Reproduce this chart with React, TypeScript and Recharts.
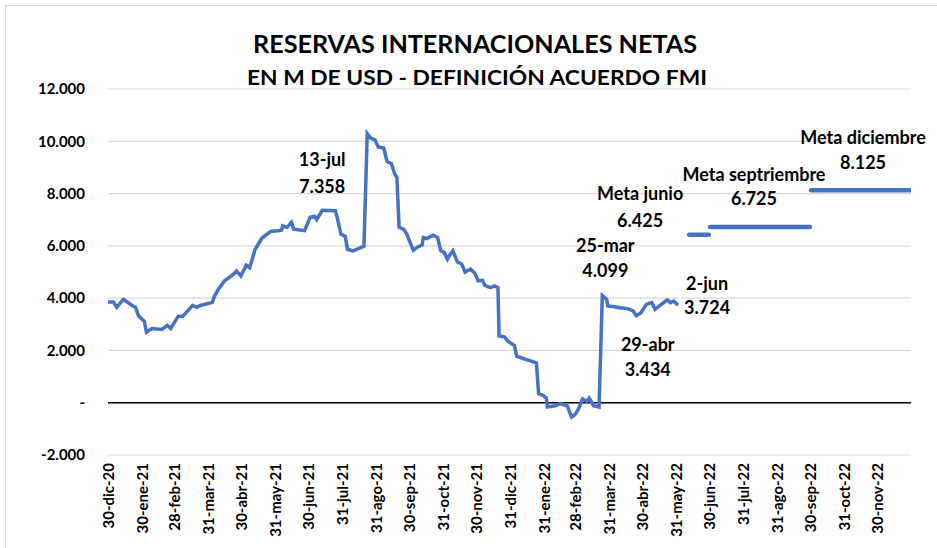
import React from "react";
import { CartesianGrid, Line, LineChart, ReferenceDot, ReferenceLine, XAxis, YAxis } from "recharts";

// RIN series (M USD)
const rinDates = [
  "2020-12-30", "2021-01-04", "2021-01-07", "2021-01-13", "2021-01-21", "2021-01-24", "2021-01-27",
  "2021-02-01", "2021-02-03", "2021-02-08", "2021-02-17", "2021-02-22", "2021-02-25", "2021-03-04",
  "2021-03-08", "2021-03-13", "2021-03-17", "2021-03-21", "2021-03-24", "2021-04-04", "2021-04-06",
  "2021-04-09", "2021-04-15", "2021-04-23", "2021-04-26", "2021-04-30", "2021-05-05", "2021-05-08",
  "2021-05-13", "2021-05-19", "2021-05-27", "2021-06-03", "2021-06-06", "2021-06-07", "2021-06-11",
  "2021-06-15", "2021-06-17", "2021-06-27", "2021-07-02", "2021-07-06", "2021-07-08", "2021-07-13",
  "2021-07-25", "2021-07-27", "2021-07-30", "2021-08-03", "2021-08-05", "2021-08-10", "2021-08-20",
  "2021-08-23", "2021-08-26", "2021-08-30", "2021-09-02", "2021-09-07", "2021-09-10", "2021-09-14",
  "2021-09-17", "2021-09-19", "2021-09-21", "2021-09-25", "2021-09-28", "2021-10-01", "2021-10-04",
  "2021-10-08", "2021-10-12", "2021-10-13", "2021-10-16", "2021-10-22", "2021-10-26", "2021-10-29",
  "2021-11-01", "2021-11-04", "2021-11-06", "2021-11-09", "2021-11-13", "2021-11-17", "2021-11-20",
  "2021-11-25", "2021-11-29", "2021-12-02", "2021-12-06", "2021-12-08", "2021-12-13", "2021-12-17",
  "2021-12-20", "2021-12-21", "2021-12-26", "2021-12-29", "2022-01-04", "2022-01-06", "2022-01-10",
  "2022-01-15", "2022-01-20", "2022-01-24", "2022-01-26", "2022-01-30", "2022-02-02", "2022-02-03",
  "2022-02-10", "2022-02-15", "2022-02-21", "2022-02-25", "2022-02-28", "2022-03-03", "2022-03-07",
  "2022-03-11", "2022-03-13", "2022-03-17", "2022-03-22", "2022-03-25", "2022-03-29", "2022-03-30",
  "2022-04-05", "2022-04-10", "2022-04-17", "2022-04-22", "2022-04-25", "2022-04-29", "2022-05-04",
  "2022-05-09", "2022-05-12", "2022-05-16", "2022-05-23", "2022-05-26", "2022-05-29", "2022-06-02",
];
const rinValues = [
  3850, 3850, 3650, 3950, 3720, 3650, 3310,
  3120, 2700, 2840, 2800, 2960, 2840, 3310,
  3310, 3530, 3720, 3650, 3720, 3840, 4080,
  4310, 4660, 4910, 5040, 4850, 5260, 5170,
  5870, 6290, 6550, 6580, 6600, 6770, 6710,
  6900, 6640, 6580, 7090, 7130, 7000, 7358,
  7345, 7025, 6450, 6360, 5870, 5810, 5980,
  10290, 10120, 10050, 9780, 9740, 9230, 9140,
  8750, 8620, 6710, 6640, 6450, 6130, 5830,
  5960, 6030, 6320, 6280, 6410, 6320, 5810,
  5750, 5490, 5640, 5810, 5390, 5300, 5000,
  5110, 4950, 4660, 4680, 4490, 4400, 4470,
  4400, 2550, 2520, 2350, 2190, 1780, 1720,
  1650, 1580, 1520, 340, 280, 180, -160,
  -115, -30, -115, -550, -460, -270, 140,
  50, 180, -115, -165, 4099, 3950, 3700,
  3670, 3630, 3600, 3510, 3330, 3434, 3760,
  3830, 3570, 3700, 3930, 3830, 3890, 3724,
];

// IMF targets
const metaJunioDates = ["2022-06-12", "2022-06-30"];
const metaJunioValue = 6425;
const metaSepDates = ["2022-07-01", "2022-09-30"];
const metaSepValue = 6725;
const metaDicDates = ["2022-10-01", "2022-12-31"];
const metaDicValue = 8125;

const xTickLabels = [
  "30-dic-20", "30-ene-21", "28-feb-21", "31-mar-21", "30-abr-21", "31-may-21", "30-jun-21", "31-jul-21",
  "31-ago-21", "30-sep-21", "31-oct-21", "30-nov-21", "31-dic-21", "31-ene-22", "28-feb-22", "31-mar-22",
  "30-abr-22", "31-may-22", "30-jun-22", "31-jul-22", "31-ago-22", "30-sep-22", "31-oct-22", "30-nov-22",
];
const yTicks = [-2000, 0, 2000, 4000, 6000, 8000, 10000, 12000];

// annotations: anchor point + text lines
const annDates = ["2021-07-13", "2022-03-25", "2022-06-02", "2022-04-29", "2022-06-12", "2022-07-01", "2022-10-01"];
const annValues = [7358, 4099, 3724, 3434, metaJunioValue, metaSepValue, metaDicValue];
const annLines = [
  ["13-jul", "7.358"],
  ["25-mar", "4.099"],
  ["2-jun", "3.724"],
  ["29-abr", "3.434"],
  ["Meta junio", "6.425"],
  ["Meta septriembre", "6.725"],
  ["Meta diciembre", "8.125"],
];
const annDx = [0, 3, 29, 7, -49, 44, 52];
const annDy = [[-51, -24], [-51, -26], [-22, 2], [31, 56], [-42, -15], [-53, -29], [-53, -28]];

const BLUE = "#4472C4";
const FONT = "Lato, 'Liberation Sans', sans-serif";
const DAY0 = Date.UTC(2020, 11, 30);
const MONTHS: Record<string, number> = {
  ene: 1, feb: 2, mar: 3, abr: 4, may: 5, jun: 6, jul: 7, ago: 8, sep: 9, oct: 10, nov: 11, dic: 12,
};

const toDay = (iso: string) => {
  const [y, m, d] = iso.split("-").map(Number);
  return (Date.UTC(y, m - 1, d) - DAY0) / 864e5;
};
const labelToDay = (lbl: string) => {
  const [d, mon, yy] = lbl.split("-");
  return (Date.UTC(2000 + Number(yy), MONTHS[mon] - 1, Number(d)) - DAY0) / 864e5;
};

const rinData = rinDates.map((d, i) => ({ t: toDay(d), v: rinValues[i] }));
const metaJunio = metaJunioDates.map((d) => ({ t: toDay(d), v: metaJunioValue }));
const metaSep = metaSepDates.map((d) => ({ t: toDay(d), v: metaSepValue }));
const metaDic = metaDicDates.map((d) => ({ t: toDay(d), v: metaDicValue }));
const xTicks = xTickLabels.map(labelToDay);
const tickLabelByDay: Record<number, string> = {};
xTickLabels.forEach((l, i) => (tickLabelByDay[xTicks[i]] = l));

const fmtY = (v: number) => (v === 0 ? "-" : v.toString().replace(/\B(?=(\d{3})+(?!\d))/g, "."));

const XTick = (props: any) => {
  const { x, y, payload } = props;
  return (
    <text
      transform={`translate(${x},${y}) rotate(-90)`}
      textAnchor="end"
      dominantBaseline="central"
      fontFamily={FONT}
      fontWeight={700}
      fontSize={15}
      fill="#000"
    >
      {tickLabelByDay[payload.value]}
    </text>
  );
};

const Ann = (props: any) => {
  const { viewBox, lines, dx, dy } = props;
  const cx = viewBox.x + (viewBox.width || 0) / 2;
  const cy = viewBox.y + (viewBox.height || 0) / 2;
  return (
    <g>
      {lines.map((l: string, i: number) => (
        <text
          key={i}
          x={cx + dx}
          y={cy + dy[i]}
          textAnchor="middle"
          dominantBaseline="central"
          fontFamily={FONT}
          fontWeight={700}
          fontSize={18}
          fill="#000"
        >
          {l}
        </text>
      ))}
    </g>
  );
};

export default function App() {
  return (
    <div style={{ position: "absolute", left: 0, top: 0, width: 937, height: 548, background: "#fff", overflow: "hidden" }}>
      <div style={{ position: "absolute", left: 5, top: 5, width: 960, height: 600, border: "1px solid #d9d9d9" }} />
      <LineChart width={937} height={548} margin={{ top: 89, right: 26, left: 48, bottom: 13 }}>
        <CartesianGrid vertical={false} stroke="#d9d9d9" strokeWidth={1.2} />
        <XAxis
          dataKey="t"
          type="number"
          domain={[0, toDay("2022-12-31")]}
          ticks={xTicks}
          interval={0}
          tick={<XTick />}
          axisLine={false}
          tickLine={false}
          tickSize={0}
          tickMargin={8}
          height={80}
          allowDataOverflow
        />
        <YAxis
          type="number"
          domain={[-2000, 12000]}
          ticks={yTicks}
          interval={0}
          tickFormatter={fmtY}
          axisLine={false}
          tickLine={false}
          tickSize={0}
          tickMargin={23}
          width={60}
          tick={{ fill: "#000", fontSize: 15, fontWeight: 700, fontFamily: FONT }}
        />
        <ReferenceLine y={0} stroke="#000" strokeWidth={1.5} />
        <Line data={rinData} dataKey="v" stroke={BLUE} strokeWidth={3.5} dot={false} activeDot={false} isAnimationActive={false} />
        <Line data={metaJunio} dataKey="v" stroke={BLUE} strokeWidth={4.5} strokeLinecap="round" dot={false} activeDot={false} isAnimationActive={false} />
        <Line data={metaSep} dataKey="v" stroke={BLUE} strokeWidth={4.5} strokeLinecap="round" dot={false} activeDot={false} isAnimationActive={false} />
        <Line data={metaDic} dataKey="v" stroke={BLUE} strokeWidth={4.5} strokeLinecap="round" dot={false} activeDot={false} isAnimationActive={false} />
        {annDates.map((d, i) => (
          <ReferenceDot
            key={i}
            x={toDay(d)}
            y={annValues[i]}
            r={0}
            fill="none"
            stroke="none"
            label={<Ann lines={annLines[i]} dx={annDx[i]} dy={annDy[i]} />}
          />
        ))}
      </LineChart>
      <svg width={937} height={100} style={{ position: "absolute", left: 0, top: 0, pointerEvents: "none" }}>
        <text x={475} y={43} textAnchor="middle" dominantBaseline="central" fontFamily={FONT} fontWeight={700} fontSize={25} textLength={444} lengthAdjust="spacingAndGlyphs" fill="#000">
          RESERVAS INTERNACIONALES NETAS
        </text>
        <text x={477} y={77} textAnchor="middle" dominantBaseline="central" fontFamily={FONT} fontWeight={700} fontSize={20} textLength={460} lengthAdjust="spacingAndGlyphs" fill="#000">
          EN M DE USD - DEFINICIÓN ACUERDO FMI
        </text>
      </svg>
    </div>
  );
}
